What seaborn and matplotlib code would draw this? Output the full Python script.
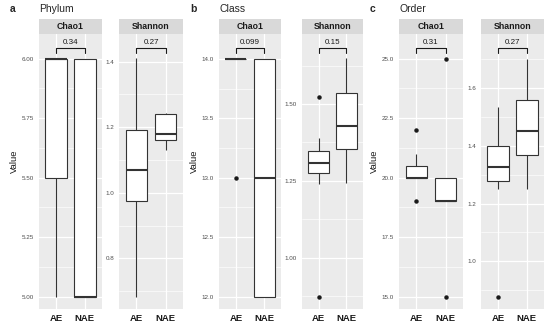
import matplotlib
matplotlib.use("Agg")
import matplotlib.pyplot as plt
from matplotlib.ticker import FixedLocator, MultipleLocator
import matplotlib.transforms as mtransforms
import numpy as np
import pandas as pd
import seaborn as sns

# groups on the x axis
groups = ["AE", "NAE"]

# Phylum level
phylum_chao1_ae = [5.0, 5.5, 6.0, 6.0, 6.0]
phylum_chao1_nae = [5.0, 5.0, 5.0, 6.0, 6.0]
phylum_shannon_ae = [0.683, 0.974, 1.070, 1.192, 1.410]
phylum_shannon_nae = [1.132, 1.160, 1.178, 1.239, 1.244]

# Class level
class_chao1_ae = [13.0, 14.0, 14.0, 14.0, 14.0]
class_chao1_nae = [12.0, 12.0, 13.0, 14.0, 14.0]
class_shannon_ae = [0.873, 1.239, 1.274, 1.290, 1.307, 1.330, 1.347, 1.391, 1.524]
class_shannon_nae = [1.243, 1.353, 1.429, 1.537, 1.648]

# Order level
order_chao1_ae = [19.0, 20.0, 20.0, 20.0, 20.0, 21.0, 22.0]
order_chao1_nae = [15.0, 19.0, 19.0, 19.0, 20.0, 20.0, 25.0]
order_shannon_ae = [0.877, 1.251, 1.280, 1.300, 1.328, 1.370, 1.400, 1.470, 1.534]
order_shannon_nae = [1.250, 1.370, 1.451, 1.559, 1.703]

# wilcoxon p-values shown above each facet
p_phylum = ["0.34", "0.27"]
p_class = ["0.099", "0.15"]
p_order = ["0.31", "0.27"]

# y tick labels per facet
ticks_phylum = [["5.00", "5.25", "5.50", "5.75", "6.00"], ["0.8", "1.0", "1.2", "1.4"]]
ticks_class = [["12.0", "12.5", "13.0", "13.5", "14.0"], ["1.00", "1.25", "1.50"]]
ticks_order = [["15.0", "17.5", "20.0", "22.5", "25.0"], ["1.0", "1.2", "1.4", "1.6"]]

W, H = 550, 327


def px_rect(x0, x1, y0, y1):
    return [x0 / W, 1 - y1 / H, (x1 - x0) / W, (y1 - y0) / H]


def make_df(ae, nae):
    return pd.DataFrame({'group': ['AE'] * len(ae) + ['NAE'] * len(nae),
                         'value': list(ae) + list(nae)})


def style_axis(ax, ticklabels, ylim):
    ax.set_facecolor('#EBEBEB')
    for s in ax.spines.values():
        s.set_visible(False)
    vals = [float(t) for t in ticklabels]
    ax.yaxis.set_major_locator(FixedLocator(vals))
    ax.set_yticklabels(ticklabels)
    step = vals[1] - vals[0]
    ax.yaxis.set_minor_locator(MultipleLocator(step / 2))
    ax.set_ylim(*ylim)
    ax.set_xlim(-0.6, 1.6)
    ax.set_axisbelow(True)
    ax.grid(which='major', color='white', linewidth=0.9)
    ax.grid(which='minor', axis='y', color='white', linewidth=0.45)
    ax.tick_params(axis='y', which='major', length=2, width=0.6, color='#333333',
                   labelsize=4.5, labelcolor='#4D4D4D', pad=1.5)
    ax.tick_params(axis='x', which='major', length=2, width=0.6, color='#333333',
                   labelsize=6.8, labelcolor='#1A1A1A', pad=1.5)
    ax.tick_params(which='minor', length=0)
    for lab in ax.get_xticklabels():
        lab.set_fontweight('bold')
    ax.set_xlabel('')
    ax.set_ylabel('')


def draw_box(ax, df):
    sns.boxplot(data=df, x='group', y='value', order=groups, ax=ax,
                color='white', linecolor='#333333', linewidth=0.8, width=0.75,
                showcaps=False, fliersize=2.2,
                medianprops=dict(linewidth=1.5, color='#333333'),
                flierprops=dict(marker='o', markerfacecolor='#1A1A1A',
                                markeredgecolor='#1A1A1A'))


def draw_bracket(ax, label):
    trans = mtransforms.blended_transform_factory(ax.transData, ax.transAxes)
    ax.plot([0, 0, 1, 1], [0.930, 0.950, 0.950, 0.930], transform=trans,
            color='#1A1A1A', linewidth=0.8, clip_on=False)
    ax.text(0.5, 0.958, label, transform=trans, ha='center', va='bottom',
            fontsize=5.8, color='#1A1A1A')


def add_strip(fig, x0, x1, title):
    sax = fig.add_axes(px_rect(x0, x1, 19, 34))
    sax.set_facecolor('#D9D9D9')
    sax.set_xticks([])
    sax.set_yticks([])
    for s in sax.spines.values():
        s.set_visible(False)
    sax.text(0.5, 0.48, title, ha='center', va='center', fontsize=6.3,
             fontweight='bold', color='#1A1A1A', transform=sax.transAxes)


sns.set_style('white')
plt.rcParams['font.family'] = ['Liberation Sans', 'DejaVu Sans']

fig = plt.figure(figsize=(5.5, 3.27), dpi=100)

panels = [
    ('a', 'Phylum', [(39, 102), (119, 183)],
     [(phylum_chao1_ae, phylum_chao1_nae), (phylum_shannon_ae, phylum_shannon_nae)],
     p_phylum, ticks_phylum, [(4.948, 6.104), (0.6453, 1.4845)]),
    ('b', 'Class', [(219, 281), (302, 363)],
     [(class_chao1_ae, class_chao1_nae), (class_shannon_ae, class_shannon_nae)],
     p_class, ticks_class, [(11.897, 14.208), (0.8331, 1.7277)]),
    ('c', 'Order', [(399, 463), (481, 544)],
     [(order_chao1_ae, order_chao1_nae), (order_shannon_ae, order_shannon_nae)],
     p_order, ticks_order, [(14.483, 26.038), (0.8345, 1.7883)]),
]

facet_names = ['Chao1', 'Shannon']

for letter, level, xs, data, pvals, ticks, lims in panels:
    for i in range(2):
        x0, x1 = xs[i]
        ax = fig.add_axes(px_rect(x0, x1, 34, 309))
        draw_box(ax, make_df(*data[i]))
        style_axis(ax, ticks[i], lims[i])
        draw_bracket(ax, pvals[i])
        add_strip(fig, x0, x1, facet_names[i])
    left = xs[0][0]
    fig.text((left - 29) / W, 1 - 9 / H, letter, fontsize=7.5, fontweight='bold',
             ha='left', va='center')
    fig.text(left / W, 1 - 9 / H, level, fontsize=7.5, ha='left', va='center')
    fig.text((left - 24.5) / W, 1 - 161 / H, 'Value', fontsize=6.8, rotation=90,
             ha='center', va='center', color='#1A1A1A')

fig.savefig('out.png', dpi=100)
